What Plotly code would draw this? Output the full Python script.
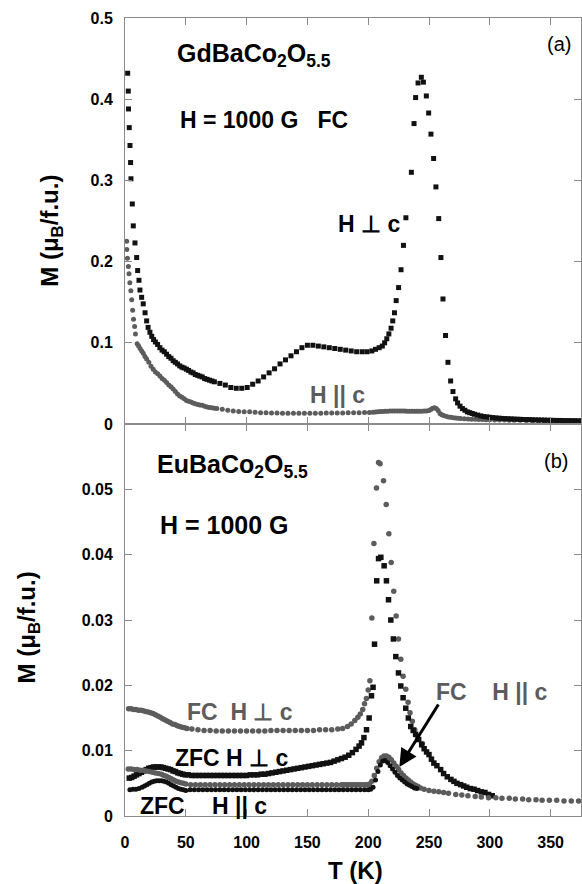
import plotly.graph_objects as go

# ---------------- GdBaCo2O5.5, H = 1000 G, FC ----------------
# H perpendicular to c (black squares)
gd_perp_T = [
    2.2, 2.7, 2.9, 3.5, 4.1, 4.6, 4.9, 6.0, 6.8, 8.2, 9.6, 10.4, 11.5, 12.3, 13.7, 15.0,
    16.5, 17.8, 19.0, 20.5, 22.0, 23.5, 25.0, 26.8, 28.7, 30.5, 32.3, 34.2, 36.0, 37.8, 39.6,
    41.4, 43.2, 45.0, 46.8, 48.6, 50.5, 52.3, 54.2, 56.0, 57.8, 59.7, 61.5, 63.5, 65.5, 67.5,
    69.5, 71.5, 73.5,
    78.0, 82.5, 87.0, 91.5, 96.0, 100.5, 105.0, 109.5, 114.0, 118.5, 123.0, 127.5, 132.0,
    136.5, 141.0, 145.5, 150.0, 154.5, 159.0, 163.5, 168.0, 172.5, 177.0, 181.5, 186.0,
    190.5, 195.0, 199.0, 203.0, 206.0, 209.0, 211.6, 213.5, 215.3, 217.0, 218.8, 220.2,
    221.6, 223.0, 225.0, 227.0, 229.0, 231.0, 235.5, 237.7, 239.0, 241.0, 243.7, 245.4,
    247.8, 249.7, 251.6, 253.8, 255.7, 258.0, 259.8, 261.5, 263.6, 265.6, 267.8, 269.7,
    271.9, 273.5, 275.5, 277.5, 279.5, 281.5, 283.5, 285.5, 287.5, 290.0, 292.5, 295.0,
    297.5, 300.0, 302.5, 305.0, 307.5, 310.0, 312.5, 315.0, 317.5, 320.0, 322.5, 325.0,
    327.5, 330.0, 332.5, 335.0, 337.5, 340.0, 342.5, 345.0, 347.5, 350.0, 352.5, 355.0,
    357.5, 360.0, 362.5, 365.0, 367.5, 370.0, 372.5, 375.0,
]
gd_perp_M = [
    0.432, 0.410, 0.388, 0.365, 0.343, 0.322, 0.302, 0.271, 0.244, 0.223, 0.205, 0.189, 0.177, 0.165, 0.156, 0.148,
    0.137, 0.127, 0.119, 0.113, 0.108, 0.104, 0.101, 0.098, 0.094, 0.091, 0.089, 0.086, 0.083, 0.081, 0.078,
    0.076, 0.074, 0.0716, 0.070, 0.069, 0.0675, 0.066, 0.064, 0.063, 0.061, 0.060, 0.059, 0.058, 0.056, 0.055,
    0.054, 0.053, 0.052,
    0.050, 0.048, 0.045, 0.044, 0.044, 0.045, 0.049, 0.053, 0.058, 0.063, 0.068, 0.074, 0.079,
    0.084, 0.089, 0.094, 0.097, 0.097, 0.096, 0.095, 0.094, 0.093, 0.092, 0.091, 0.090,
    0.089, 0.089, 0.089, 0.090, 0.092, 0.094, 0.096, 0.100, 0.105, 0.111, 0.118, 0.127,
    0.137, 0.152, 0.168, 0.190, 0.220, 0.254, 0.310, 0.370, 0.402, 0.420, 0.427, 0.421,
    0.404, 0.383, 0.357, 0.327, 0.292, 0.253, 0.205, 0.154, 0.109, 0.076, 0.053, 0.040,
    0.031, 0.026, 0.022, 0.019, 0.017, 0.015, 0.014, 0.013, 0.012, 0.011, 0.010, 0.0093,
    0.0088, 0.0083, 0.0079, 0.0075, 0.0072, 0.0069, 0.0067, 0.0065, 0.0063, 0.0061, 0.0059, 0.0058,
    0.0056, 0.0055, 0.0054, 0.0052, 0.0051, 0.0050, 0.0049, 0.0048, 0.0047, 0.0046, 0.0045, 0.0044,
    0.0044, 0.0043, 0.0042, 0.0041, 0.0041, 0.0040, 0.0039, 0.0039,
]

# H parallel to c (grey circles)
gd_par_T = [
    1.4, 1.5, 2.0, 2.8, 3.3, 4.0, 4.8, 5.5, 6.3, 7.0, 7.9, 8.6, 10.0,
    11.2, 12.4, 13.7, 15.0, 16.4, 17.8, 19.6, 21.4, 23.2, 25.0, 26.9, 28.7,
    30.5, 32.4, 34.2, 36.0, 37.8, 39.6, 41.4, 43.2, 45.0, 46.8, 48.7, 50.5,
    52.3, 54.2, 56.0, 57.8, 59.7, 61.5, 63.5, 65.5, 67.5, 69.5, 71.5, 73.5, 75.5,
    80.0, 84.5, 89.0, 93.5, 98.0, 102.5, 107.0, 111.5, 116.0, 120.5, 125.0, 129.5,
    134.0, 138.5, 143.0, 147.5, 152.0, 156.5, 161.0, 165.5, 170.0, 174.5, 179.0, 183.5,
    188.0, 192.5, 197.0, 201.0, 204.0, 206.0, 208.0, 210.0, 212.0, 214.0, 216.0, 218.0,
    220.0, 222.0, 224.0, 226.0, 228.0, 230.0, 232.0, 234.0, 236.0, 238.0, 240.0, 242.0,
    244.0, 246.0, 248.0, 250.0, 251.5, 253.0, 254.5, 256.0, 257.5, 259.0, 260.5, 262.0,
    264.0, 266.0, 268.0, 270.0, 272.0, 274.0, 276.0, 279.0, 282.0, 285.0, 288.0, 291.0,
    294.0, 297.0, 300.0, 304.0, 308.0, 312.0, 316.0, 320.0, 325.0, 330.0, 335.0, 340.0,
    345.0, 350.0, 355.0, 360.0, 365.0, 370.0, 375.0,
]
gd_par_M = [
    0.225, 0.215, 0.204, 0.194, 0.185, 0.174, 0.164, 0.153, 0.140, 0.129, 0.120, 0.111, 0.099,
    0.096, 0.093, 0.090, 0.087, 0.083, 0.080, 0.076, 0.071, 0.0675, 0.064, 0.062, 0.059,
    0.056, 0.054, 0.051, 0.048, 0.046, 0.043, 0.040, 0.037, 0.0346, 0.033, 0.031, 0.029,
    0.028, 0.027, 0.026, 0.025, 0.024, 0.0235, 0.023, 0.022, 0.021, 0.0205, 0.020, 0.0195, 0.019,
    0.0183, 0.017, 0.016, 0.0155, 0.0152, 0.015, 0.0145, 0.014, 0.0138, 0.0136, 0.0135, 0.0134,
    0.0133, 0.0132, 0.0132, 0.0133, 0.0133, 0.0134, 0.0134, 0.0135, 0.0135, 0.0136, 0.0137, 0.0138,
    0.0139, 0.0140, 0.0141, 0.0142, 0.0145, 0.0148, 0.0150, 0.0153, 0.0155, 0.0157, 0.0158, 0.0159,
    0.0160, 0.0160, 0.0161, 0.0160, 0.0160, 0.0159, 0.0158, 0.0157, 0.0157, 0.0156, 0.0156, 0.0157,
    0.0158, 0.0159, 0.0160, 0.0167, 0.0180, 0.0195, 0.0200, 0.0190, 0.0165, 0.0130, 0.0115, 0.0105,
    0.0095, 0.0088, 0.0082, 0.0078, 0.0074, 0.0071, 0.0068, 0.0065, 0.0062, 0.0060, 0.0058, 0.0056,
    0.0055, 0.0053, 0.0052, 0.0050, 0.0049, 0.0048, 0.0047, 0.0046, 0.0045, 0.0044, 0.0043, 0.0042,
    0.0041, 0.0040, 0.0039, 0.0038, 0.0037, 0.0037, 0.0036,
]

# ---------------- EuBaCo2O5.5, H = 1000 G ----------------
# FC, H perpendicular to c (grey circles)
eu_fc_perp_T = [
    3, 5, 7, 9, 11, 13, 15, 17, 19, 21, 23, 25, 27, 29, 31, 33, 35, 37, 39, 41, 43, 45, 47, 49, 51,
    55, 60, 65, 70, 75, 80, 85, 90, 95, 100, 105, 110, 115, 120, 125, 130, 135, 140, 145, 150,
    155, 160, 165, 170, 175,
    179, 183, 186, 189, 191.5, 193.5, 195.5, 197, 198.5, 200, 201.4, 203, 204.7, 206.8, 208.5, 209.8,
    212.6, 214.8, 217, 218.9, 221, 223, 224.9, 226.8, 228.7, 230.9, 232.8, 234.4, 236.3, 238.3, 240.5, 244.5,
]
eu_fc_perp_M = [
    0.0164, 0.0164, 0.0163, 0.0163, 0.0162, 0.0162, 0.0161, 0.0160, 0.0159, 0.0158, 0.0157, 0.0155,
    0.0153, 0.0151, 0.0149, 0.0147, 0.0145, 0.0143, 0.0141, 0.0140, 0.0138, 0.0137, 0.0136, 0.0135, 0.0134,
    0.0133, 0.0132, 0.0131, 0.0131, 0.0130, 0.0130, 0.0130, 0.0130, 0.0130, 0.0130, 0.0130, 0.0130,
    0.0130, 0.0131, 0.0131, 0.0131, 0.0131, 0.0131, 0.0131, 0.0131, 0.0131, 0.0132, 0.0132, 0.0132, 0.0133,
    0.0134, 0.0137, 0.0141, 0.0146, 0.0151, 0.0156, 0.0163, 0.0172, 0.0180, 0.0193, 0.0207, 0.0303,
    0.0417, 0.0502, 0.0541, 0.0539,
    0.0513, 0.0477, 0.0432, 0.0388, 0.0344, 0.0306, 0.0271, 0.0240, 0.0214, 0.0194, 0.0174, 0.0158,
    0.0145, 0.0132, 0.0121, 0.0111,
]

# ZFC, H perpendicular to c (black squares)
eu_zfc_perp_T = [
    3.5, 5.5, 7.5, 9.5, 11.5, 13.5, 15.5, 17.5, 19.5, 21.5, 23.5, 25.5,
    27.5, 29.5, 31.5, 33.5, 35.5, 37.5, 39.5, 41.5, 43.5, 45.5, 47.5, 49.5,
    52, 55, 58, 61, 64, 67, 70, 73, 76, 79, 82, 85, 88, 91, 94, 97, 100, 103, 106, 109, 112, 115, 118, 121,
    124, 127, 130, 133, 136, 139, 142, 145, 148, 151, 154, 157, 160, 163, 166, 169, 172, 175, 178, 181,
    184, 187, 190, 192.5,
    194.5, 196.5, 198.6, 200.8, 202.7, 204, 205.2, 207, 208.5, 210.4, 213.1, 215, 216.7, 218.6, 220.7,
    222.7, 224.9, 226.8, 228.7, 230.9, 233, 235, 237, 239,
    241.5, 244, 246, 248, 250, 252, 254, 256.5, 259.6, 262, 265, 268, 270.5, 273, 276, 278.5, 281, 284,
    287, 290, 293, 296, 299, 302,
]
eu_zfc_perp_M = [
    0.0058, 0.0059, 0.0061, 0.0063, 0.0065, 0.0067, 0.0069, 0.0071, 0.0073, 0.0074, 0.0075, 0.0075,
    0.0075, 0.0075, 0.0074, 0.0073, 0.0072, 0.0071, 0.0069, 0.0068, 0.0066, 0.0065, 0.0064, 0.0063,
    0.0063, 0.0062, 0.0062, 0.0062, 0.0062, 0.0062, 0.0062, 0.0062, 0.0062, 0.0062, 0.0062, 0.0062,
    0.0062, 0.0062, 0.0062, 0.0062, 0.0062, 0.0063, 0.0063, 0.0063, 0.0064, 0.0064, 0.0065, 0.0066,
    0.0067, 0.0068, 0.0069, 0.0070, 0.0071, 0.0072, 0.0073, 0.0074, 0.0075, 0.0076, 0.0077, 0.0078,
    0.0079, 0.0080, 0.0081, 0.0082, 0.0084, 0.0086, 0.0088, 0.0090, 0.0093, 0.0097, 0.0102, 0.0107,
    0.0112, 0.0120, 0.0132, 0.0150, 0.0184, 0.0197, 0.0263, 0.0360, 0.0394, 0.0396, 0.0383, 0.0360,
    0.0331, 0.0300, 0.0271, 0.0244, 0.0219, 0.0199, 0.0181, 0.0165, 0.0150, 0.0137, 0.0131, 0.0125,
    0.0117, 0.0109, 0.0103, 0.0098, 0.0094, 0.0087, 0.0081, 0.0077, 0.0071, 0.0065, 0.0060, 0.0056,
    0.0053, 0.0050, 0.0048, 0.0046, 0.0044, 0.0042, 0.0041, 0.0039, 0.0037, 0.0036, 0.0033, 0.0031,
]

# FC, H parallel to c (grey circles)
eu_fc_par_T = [
    2.7, 5, 7.5, 10, 12.5, 15, 17.5, 20, 22.5, 25, 27.5, 30, 32, 34, 36, 38, 40, 42, 44, 46, 48, 50,
    54, 58, 62, 66, 70, 74, 78, 82, 86, 90, 94, 98, 102, 106, 110, 114, 118, 122, 126, 130, 134, 138,
    142, 146, 150, 154, 158, 162, 166, 170, 174, 178, 180, 182, 184, 186, 188, 190, 192, 194, 196, 198,
    200, 201,
    203, 205, 207, 209, 211, 213, 215, 217, 219, 221, 223, 225, 227, 229, 231, 233, 235, 237, 239, 241,
    243, 246,
    250, 254, 258, 262, 266, 272, 277, 282, 288, 293, 299, 305, 310, 316, 321, 327, 332, 338, 343, 349,
    355, 361, 367, 373,
]
eu_fc_par_M = [
    0.0072, 0.0072, 0.0071, 0.0071, 0.0070, 0.0070, 0.0069, 0.0068, 0.0067, 0.0066, 0.0065, 0.0064,
    0.0062, 0.0061, 0.0059, 0.0057, 0.0055, 0.0053, 0.0052, 0.0051, 0.0050, 0.0049,
    0.0048, 0.0048, 0.0048, 0.0048, 0.0048, 0.0048, 0.0048, 0.0048, 0.0048, 0.0048, 0.0048, 0.0048,
    0.0048, 0.0048, 0.0048, 0.0048, 0.0048, 0.0048, 0.0048, 0.0048, 0.0048, 0.0048,
    0.0048, 0.0048, 0.0048, 0.0048, 0.0048, 0.0048, 0.0048, 0.0048, 0.0048, 0.0048, 0.0048, 0.0048,
    0.0048, 0.0048, 0.0048, 0.0048, 0.0048, 0.0048, 0.0048, 0.0048, 0.0048, 0.0049,
    0.0053, 0.0062, 0.0073, 0.0083, 0.0089, 0.0092, 0.0092, 0.0090, 0.0086, 0.0081, 0.0076, 0.0071,
    0.0066, 0.0062, 0.0058, 0.0055, 0.0052, 0.0049, 0.0047, 0.0045, 0.0043, 0.0041,
    0.0039, 0.0038, 0.0037, 0.0036, 0.0035, 0.0033, 0.0032, 0.0031, 0.0030, 0.0029, 0.0028, 0.0028,
    0.0027, 0.0027, 0.0026, 0.0026, 0.0025, 0.0025, 0.0024, 0.0024, 0.0024, 0.0023, 0.0023, 0.0023,
]

# ZFC, H parallel to c (black circles)
eu_zfc_par_T = [
    4, 6.5, 9, 11.5, 14, 16, 18, 20, 22, 24, 26, 28, 30, 32, 34, 36, 38, 40, 42, 44, 46, 48, 50,
    53.5, 57, 60.5, 64, 67.5, 71, 74.5, 78, 81.5, 85, 88.5, 92, 95.5, 99, 102.5, 106, 109.5, 113,
    116.5, 120, 123.5, 127, 130.5,
    134, 137.5, 141, 144.5, 148, 151.5, 155, 158.5, 162, 165.5, 169, 172.5, 176, 179.5, 183, 186.5,
    190, 193.5, 197, 200, 202, 204, 206,
    208, 210, 212, 214, 216, 218, 220, 222, 224, 226, 228, 230, 232, 234, 236, 238, 240,
]
eu_zfc_par_M = [
    0.0040, 0.0041, 0.0041, 0.0042, 0.0044, 0.0046, 0.0048, 0.0050, 0.0052, 0.0053, 0.0054, 0.0054,
    0.0054, 0.0053, 0.0052, 0.0050, 0.0048, 0.0046, 0.0044, 0.0042, 0.0041, 0.0040, 0.0039,
    0.0040, 0.0040, 0.0040, 0.0040, 0.0040, 0.0040, 0.0040, 0.0040, 0.0040, 0.0040, 0.0040, 0.0040,
    0.0040, 0.0040, 0.0040, 0.0040, 0.0040, 0.0040, 0.0040, 0.0040, 0.0040, 0.0040, 0.0040,
    0.0040, 0.0040, 0.0040, 0.0040, 0.0040, 0.0040, 0.0040, 0.0040, 0.0040, 0.0040, 0.0040, 0.0040,
    0.0040, 0.0040, 0.0040, 0.0040, 0.0040, 0.0040, 0.0040, 0.0040, 0.0041, 0.0044, 0.0055,
    0.0068, 0.0078, 0.0084, 0.0085, 0.0082, 0.0077, 0.0072, 0.0067, 0.0062, 0.0058, 0.0055, 0.0052,
    0.0049, 0.0047, 0.0045, 0.0043, 0.0042,
]

# ---------------- axis ticks ----------------
T_ticks = [0, 50, 100, 150, 200, 250, 300, 350]
T_tick_labels = ["0", "50", "100", "150", "200", "250", "300", "350"]
gd_ticks = [0, 0.1, 0.2, 0.3, 0.4, 0.5]
gd_tick_labels = ["0", "0.1", "0.2", "0.3", "0.4", "0.5"]
eu_ticks = [0, 0.01, 0.02, 0.03, 0.04, 0.05]
eu_tick_labels = ["0", "0.01", "0.02", "0.03", "0.04", "0.05"]

FONT = "Liberation Sans, Arial, Helvetica, sans-serif"
BLACK = "#111111"
GREY = "#5c5c5c"
AXIS = "#8a8a8a"

fig = go.Figure()


def add_series(T, M, symbol, color, size, yaxis, xaxis):
    fig.add_trace(go.Scatter(
        x=T, y=M, mode="markers", xaxis=xaxis, yaxis=yaxis,
        marker=dict(symbol=symbol, color=color, size=size, line=dict(width=0)),
        hoverinfo="x+y", showlegend=False,
    ))


# upper panel
add_series(gd_par_T, gd_par_M, "circle", GREY, 5, "y", "x")
add_series(gd_perp_T, gd_perp_M, "square", BLACK, 5, "y", "x")
# lower panel
add_series(eu_fc_perp_T, eu_fc_perp_M, "circle", GREY, 5.5, "y2", "x2")
add_series(eu_zfc_perp_T, eu_zfc_perp_M, "square", BLACK, 5.5, "y2", "x2")
add_series(eu_fc_par_T, eu_fc_par_M, "circle", GREY, 5.5, "y2", "x2")
add_series(eu_zfc_par_T, eu_zfc_par_M, "circle", BLACK, 5, "y2", "x2")

common_axis = dict(
    showline=True, linecolor=AXIS, linewidth=1, mirror="ticks",
    ticks="inside", ticklen=7, tickwidth=1, tickcolor=AXIS,
    showgrid=False, zeroline=False,
    tickfont=dict(family=FONT, size=16, color="black", weight="bold"),
)

split = 0.4912
fig.update_layout(
    width=582, height=884,
    margin=dict(l=125, r=1, t=18, b=68),
    paper_bgcolor="white", plot_bgcolor="white",
    showlegend=False,
    xaxis=dict(common_axis, domain=[0, 1], anchor="y", range=[0, 375],
               tickvals=T_ticks, ticktext=T_tick_labels, showticklabels=False),
    yaxis=dict(common_axis, domain=[split, 1], anchor="x", range=[0, 0.5],
               tickvals=gd_ticks, ticktext=gd_tick_labels, ticklabelstandoff=8),
    xaxis2=dict(common_axis, domain=[0, 1], anchor="y2", range=[0, 375],
                tickvals=T_ticks, ticktext=T_tick_labels, ticklabelstandoff=12),
    yaxis2=dict(common_axis, domain=[0, split], anchor="x2", range=[0, 0.06],
                tickvals=eu_ticks, ticktext=eu_tick_labels, ticklabelstandoff=8),
)


def label(text, x, y, ref, size=23, color="black", bold=True, xanchor="center", **kw):
    fig.add_annotation(
        text=text, x=x, y=y, xref=ref[0], yref=ref[1], showarrow=False,
        xanchor=xanchor, yanchor="middle",
        font=dict(family=FONT, size=size, color=color, weight="bold" if bold else "normal"),
        **kw,
    )


top = ("x", "y")
bot = ("x2", "y2")

# upper panel labels
label("GdBaCo<sub>2</sub>O<sub>5.5</sub>", 41, 0.454, top, size=25, xanchor="left")
label("H = 1000 G   FC", 43.5, 0.374, top, xanchor="left")
label("(a)", 357, 0.468, top, size=20, bold=False)
label("H \u22a5 c", 201, 0.246, top)
label("H || c", 174.8, 0.0357, top, color=GREY)

# lower panel labels
label("EuBaCo<sub>2</sub>O<sub>5.5</sub>", 24.6, 0.0536, bot, size=25, xanchor="left")
label("H = 1000 G", 27, 0.0445, bot, size=25, xanchor="left")
label("(b)", 354.5, 0.0543, bot, size=20, bold=False)
label("FC  H \u22a5 c", 94.4, 0.0159, bot, color=GREY)
label("ZFC H \u22a5 c", 87.8, 0.00888, bot)
label("ZFC", 31.2, 0.00153, bot)
label("H || c", 94.4, 0.00153, bot)
label("FC    H || c", 301, 0.0190, bot, color=GREY)

# arrow pointing at the FC, H || c peak
fig.add_annotation(
    x=225.6, y=0.0075, xref="x2", yref="y2", ax=40, ay=-64,
    showarrow=True, arrowhead=2, arrowsize=1.2, arrowwidth=3, arrowcolor="black", text="",
)

# axis titles
label("M (\u03bc<sub>B</sub>/f.u.)", -0.163, 0.733, ("paper", "paper"), size=24, textangle=-90)
label("M (\u03bc<sub>B</sub>/f.u.)", -0.211, 0.236, ("paper", "paper"), size=24, textangle=-90)
label("T (K)", 0.5055, -0.0677, ("paper", "paper"), size=24)

fig.write_html("out.html")
